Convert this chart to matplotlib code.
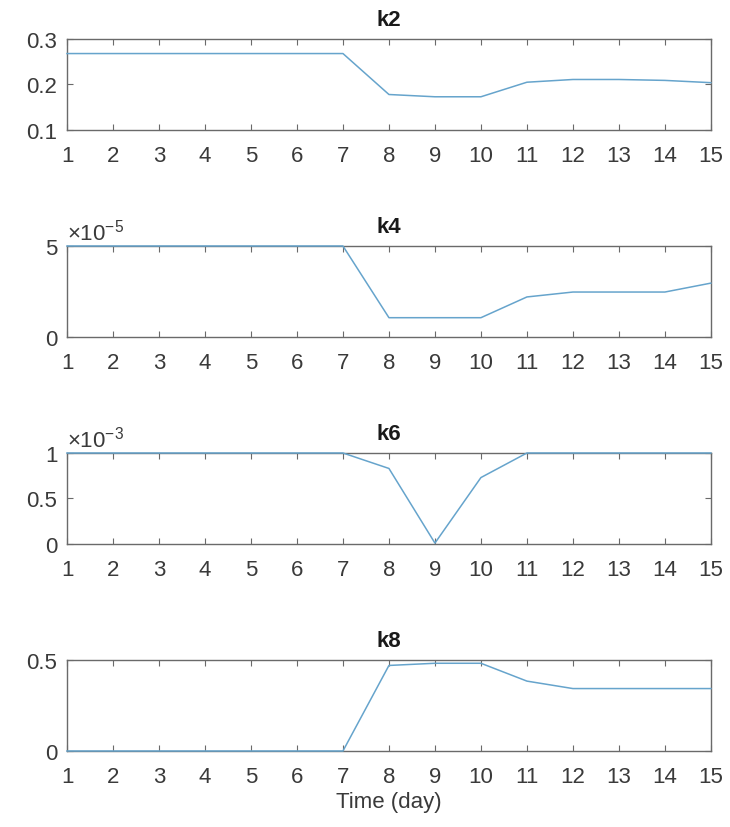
import matplotlib
matplotlib.use("Agg")
import matplotlib.pyplot as plt
from matplotlib.ticker import FuncFormatter

days = list(range(1, 16))
k2 = [0.268, 0.268, 0.268, 0.268, 0.268, 0.268, 0.268, 0.178, 0.173, 0.173, 0.205, 0.211, 0.211, 0.209, 0.204]
k4 = [5.0e-5, 5.0e-5, 5.0e-5, 5.0e-5, 5.0e-5, 5.0e-5, 5.0e-5, 1.06e-5, 1.06e-5, 1.06e-5, 2.2e-5, 2.47e-5, 2.47e-5, 2.47e-5, 2.96e-5]
k6 = [1.0e-3, 1.0e-3, 1.0e-3, 1.0e-3, 1.0e-3, 1.0e-3, 1.0e-3, 0.83e-3, 0.01e-3, 0.73e-3, 1.0e-3, 1.0e-3, 1.0e-3, 1.0e-3, 1.0e-3]
k8 = [0.0, 0.0, 0.0, 0.0, 0.0, 0.0, 0.0, 0.47, 0.482, 0.482, 0.384, 0.343, 0.343, 0.343, 0.343]

titles = ["k2", "k4", "k6", "k8"]
series = [k2, k4, k6, k8]
ylims = [(0.1, 0.3), (0, 5e-5), (0, 1e-3), (0, 0.5)]
yticks = [[0.1, 0.2, 0.3], [0, 5e-5], [0, 0.5e-3, 1e-3], [0, 0.5]]
scales = [1, 1e-5, 1e-3, 1]
exps = [None, -5, -3, None]
xlabel = "Time (day)"

plt.rcParams['font.family'] = ['Liberation Sans', 'DejaVu Sans']
plt.rcParams['mathtext.fontset'] = 'custom'
plt.rcParams['mathtext.rm'] = 'Liberation Sans'
plt.rcParams['mathtext.it'] = 'Liberation Sans'

fig = plt.figure(figsize=(7.3, 8.28), dpi=100)
line_color = '#66a4cc'
spine_color = '#6a6a6a'
text_color = '#3a3a3a'

bottoms = [0.8418, 0.5918, 0.3418, 0.0918]
for i in range(4):
    ax = fig.add_axes([0.0918, bottoms[i], 0.882, 0.1099])
    ax.plot(days, series[i], color=line_color, lw=1.1, zorder=3, clip_on=False)
    ax.set_xlim(1, 15)
    ax.set_ylim(*ylims[i])
    ax.set_xticks(days)
    ax.set_yticks(yticks[i])
    s = scales[i]
    ax.yaxis.set_major_formatter(FuncFormatter(lambda v, p, s=s: f"{round(v / s, 6):g}"))
    ax.tick_params(direction='in', top=True, right=True, length=4, width=0.8,
                   color=spine_color, labelcolor=text_color, labelsize=16)
    ax.tick_params(axis='x', pad=11)
    ax.tick_params(axis='y', pad=7)
    for sp in ax.spines.values():
        sp.set_color(spine_color)
        sp.set_linewidth(1.0)
    ax.set_title(titles[i], fontsize=16, fontweight='bold', color='#1a1a1a', pad=10)
    if exps[i] is not None:
        ax.text(0.0, 1.02, r"$\times10^{%d}$" % exps[i], transform=ax.transAxes,
                ha='left', va='bottom', fontsize=16, color=text_color)
    if i == 3:
        ax.set_xlabel(xlabel, fontsize=16, color=text_color, labelpad=3)

fig.savefig("out.png", dpi=100, facecolor='white')
